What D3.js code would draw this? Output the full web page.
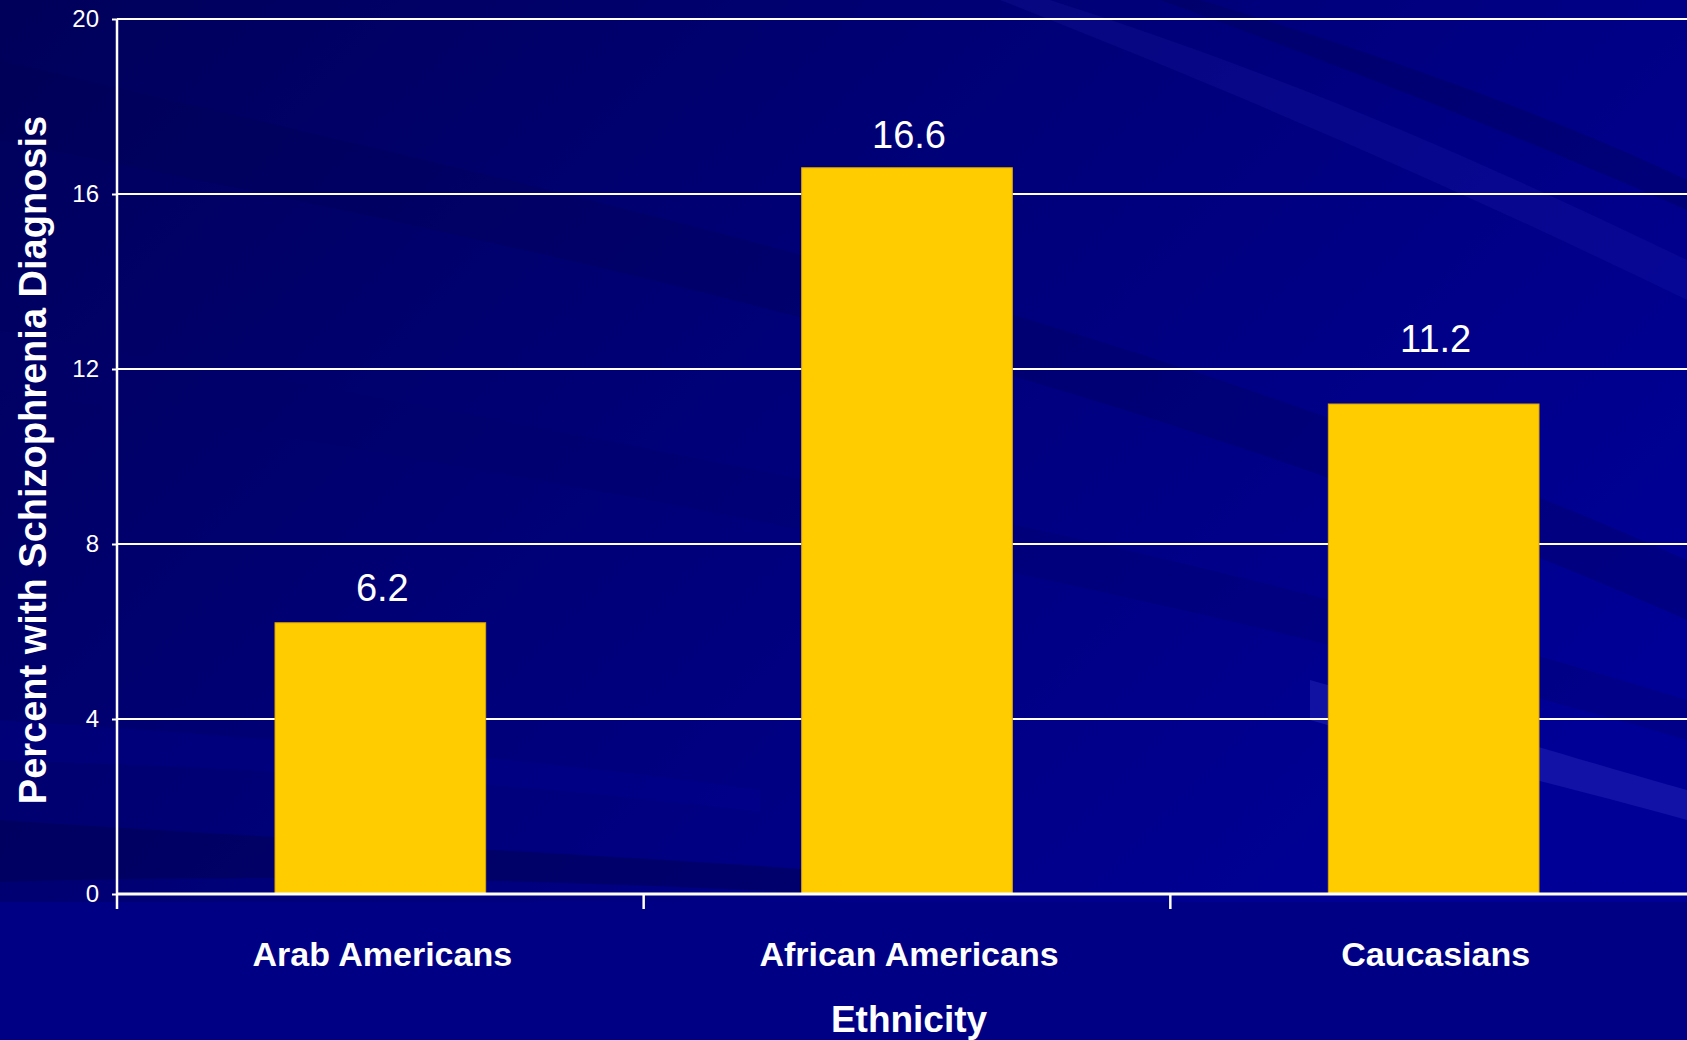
<!DOCTYPE html>
<html>
<head>
<meta charset="utf-8">
<title>Schizophrenia diagnosis by ethnicity</title>
<style>
  body { margin: 0; background: #000080; overflow: hidden; }
  svg text { font-family: "Liberation Sans", Arial, sans-serif; fill: #fff; }
  .bar { fill: #ffcc00; stroke: #d9a400; stroke-width: 1; }
</style>
</head>
<body>
<div id="chart"></div>
<script src="https://d3js.org/d3.v7.min.js"></script>
<script>
// data
var categories = ["Arab Americans", "African Americans", "Caucasians"];
var percents = [6.2, 16.6, 11.2];
var yTicks = [0, 4, 8, 12, 16, 20];
var xTitle = "Ethnicity";
var yTitle = "Percent with Schizophrenia Diagnosis";

var width = 1687, height = 1040;
var plotLeft = 117, plotRight = 1697, plotTop = 19, plotBottom = 894;

var svg = d3.select("#chart").append("svg")
  .attr("width", width)
  .attr("height", height);

// background: dark navy with soft diagonal streaks
var defs = svg.append("defs");
var bg = defs.append("linearGradient").attr("id", "bg")
  .attr("x1", "0").attr("y1", "0").attr("x2", "1").attr("y2", "0.6");
bg.append("stop").attr("offset", "0%").attr("stop-color", "#00005a");
bg.append("stop").attr("offset", "45%").attr("stop-color", "#000076");
bg.append("stop").attr("offset", "100%").attr("stop-color", "#000096");

svg.append("rect").attr("width", width).attr("height", height).attr("fill", "url(#bg)");
svg.append("rect").attr("y", 902).attr("width", width).attr("height", 138).attr("fill", "#000084");

var streaks = [
  {d: "M0,60 C500,180 1100,300 1687,560 L1687,620 C1100,360 500,240 0,140 Z", c: "#000050", o: 0.25},
  {d: "M0,330 C500,420 1100,520 1687,700 L1687,740 C1100,570 500,470 0,390 Z", c: "#00006a", o: 0.3},
  {d: "M1050,0 C1300,80 1500,170 1687,260 L1687,300 C1480,200 1280,110 1000,0 Z", c: "#3030c0", o: 0.15},
  {d: "M1200,0 C1400,60 1560,120 1687,180 L1687,210 C1550,150 1380,80 1160,0 Z", c: "#000050", o: 0.3},
  {d: "M1310,680 C1450,720 1580,760 1687,790 L1687,820 C1580,790 1450,760 1310,720 Z", c: "#3a3ad0", o: 0.3},
  {d: "M0,820 C300,840 600,855 820,870 L820,894 C600,882 300,872 0,882 Z", c: "#000050", o: 0.45},
  {d: "M0,720 C300,740 550,760 760,790 L760,812 C550,785 300,770 0,760 Z", c: "#0000a0", o: 0.2}
];
svg.append("g").selectAll("path").data(streaks).join("path")
  .attr("d", function(s) { return s.d; })
  .attr("fill", function(s) { return s.c; })
  .attr("opacity", function(s) { return s.o; });

// scales
var y = d3.scaleLinear().domain([0, 20]).range([plotBottom, plotTop]);
var slots = d3.scaleBand().domain(categories).range([plotLeft, plotRight]).padding(0);
var x = d3.scaleBand().domain(categories).range([plotLeft, plotRight])
  .paddingInner(0.6).paddingOuter(0.3);

// gridlines
svg.append("g").selectAll("line").data(yTicks.filter(function(t) { return t > 0; })).join("line")
  .attr("x1", plotLeft).attr("x2", width)
  .attr("y1", function(t) { return y(t); }).attr("y2", function(t) { return y(t); })
  .attr("stroke", "#fff").attr("stroke-width", 2);

// y axis
var yAxis = d3.axisLeft(y).tickValues(yTicks).tickSize(5).tickPadding(13);
var gy = svg.append("g").attr("transform", "translate(" + plotLeft + ",0)").call(yAxis);
gy.select(".domain").remove();
gy.selectAll(".tick line").attr("stroke", "#fff").attr("stroke-width", 2);
gy.selectAll(".tick text").attr("fill", "#fff")
  .style("font-size", "24px").style("font-family", "'Liberation Sans', Arial, sans-serif");
svg.append("line").attr("x1", plotLeft).attr("x2", plotLeft).attr("y1", y(20)).attr("y2", plotBottom + 15)
  .attr("stroke", "#fff").attr("stroke-width", 2.5);

// bars
svg.append("g").selectAll("rect").data(percents).join("rect")
  .attr("class", "bar")
  .attr("x", function(d, i) { return x(categories[i]); })
  .attr("width", x.bandwidth())
  .attr("y", function(d) { return y(d); })
  .attr("height", function(d) { return plotBottom - y(d); });

// value labels (the Caucasians label sits higher on the slide)
var labelGap = [22, 20, 52];
svg.append("g").selectAll("text").data(percents).join("text")
  .attr("x", function(d, i) { return x(categories[i]) + x.bandwidth() / 2 + 2; })
  .attr("y", function(d, i) { return y(d) - labelGap[i]; })
  .attr("text-anchor", "middle")
  .style("font-size", "38px")
  .text(function(d) { return d.toFixed(1); });

// x axis line and ticks at slot boundaries
svg.append("line").attr("x1", plotLeft).attr("x2", width).attr("y1", plotBottom).attr("y2", plotBottom)
  .attr("stroke", "#fff").attr("stroke-width", 3);
svg.append("g").selectAll("line").data(categories.slice(1)).join("line")
  .attr("x1", function(c) { return slots(c); }).attr("x2", function(c) { return slots(c); })
  .attr("y1", plotBottom).attr("y2", plotBottom + 15)
  .attr("stroke", "#fff").attr("stroke-width", 2.5);

// category labels
svg.append("g").selectAll("text").data(categories).join("text")
  .attr("x", function(c) { return slots(c) + slots.bandwidth() / 2 + 2; })
  .attr("y", 966)
  .attr("text-anchor", "middle")
  .style("font-size", "34px").style("font-weight", "bold")
  .text(function(c) { return c; });

// axis titles
svg.append("text")
  .attr("x", slots(categories[1]) + slots.bandwidth() / 2 + 2)
  .attr("y", 1032)
  .attr("text-anchor", "middle")
  .style("font-size", "37px").style("font-weight", "bold")
  .text(xTitle);

svg.append("text")
  .attr("transform", "translate(46,460) rotate(-90)")
  .attr("text-anchor", "middle")
  .style("font-size", "38px").style("font-weight", "bold")
  .text(yTitle);
</script>
</body>
</html>
